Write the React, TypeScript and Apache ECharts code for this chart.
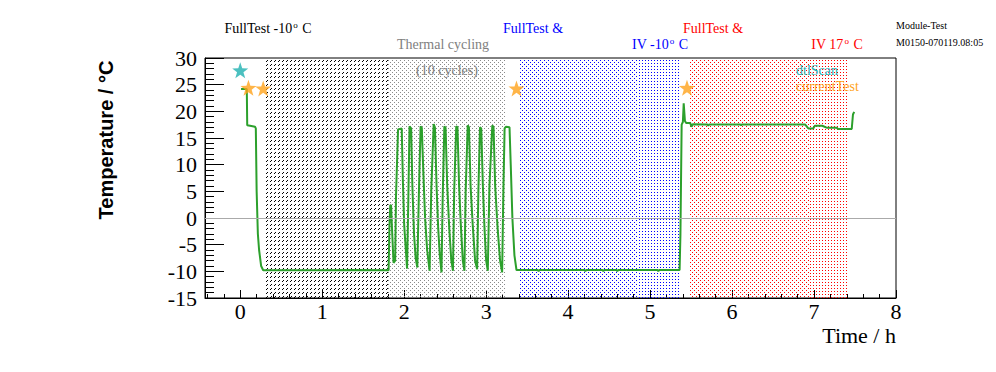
import React, { useEffect, useRef } from 'react';
import * as echarts from 'echarts';

// ---- data (hours, °C) ----
const timeH = [
  0.01, 0.08, 0.085, 0.12, 0.18, 0.19, 0.20, 0.215, 0.23, 0.255, 0.28, 0.60, 1.00, 1.40, 1.80,
  1.81, 1.82, 1.83, 1.84, 1.85, 1.87, 1.89,
  1.90, 1.925, 1.97, 1.985, 2.0, 2.02, 2.035,
  2.05, 2.065, 2.085, 2.10, 2.12, 2.14, 2.16,
  2.18, 2.20, 2.215, 2.235, 2.255, 2.28, 2.31,
  2.33, 2.36, 2.375, 2.395, 2.415, 2.435, 2.455,
  2.47, 2.49, 2.505, 2.525, 2.55, 2.575, 2.595,
  2.61, 2.635, 2.65, 2.67, 2.69, 2.715, 2.735,
  2.75, 2.775, 2.79, 2.81, 2.835, 2.865, 2.89,
  2.905, 2.925, 2.94, 2.96, 2.98, 3.00, 3.02,
  3.04, 3.075, 3.09, 3.11, 3.14, 3.17, 3.195,
  3.21, 3.225, 3.24, 3.285, 3.30, 3.32, 3.345, 3.37,
  3.40, 3.63, 3.64, 3.65, 4.20, 4.21, 4.22, 4.42, 4.43, 4.44, 4.59, 4.60, 4.61, 5.09, 5.10, 5.11,
  5.36, 5.37, 5.385, 5.40, 5.41, 5.425, 5.44, 5.49, 5.505, 5.52, 5.70, 5.71, 5.72, 6.10, 6.11, 6.12,
  6.89, 6.93, 6.99, 7.01, 7.10, 7.16, 7.28, 7.29, 7.46, 7.475, 7.49,
];
const tempC = [
  24.2, 24.2, 17.4, 17.3, 17.1, 16.8, 5.0, -3.0, -6.0, -9.0, -9.8, -9.8, -9.8, -9.75, -9.8,
  -9.8, -1.5, 2.4, 2.4, -1.5, -8.4, -8.0,
  4.0, 16.6, 16.8, 6.5, -1.3, -6.0, -9.5,
  3.0, 17.2, 16.8, 6.0, -3.0, -7.5, -9.3,
  5.0, 17.2, 16.9, 8.0, 0.0, -6.0, -9.9,
  5.0, 17.6, 17.0, 6.0, -2.0, -7.0, -10.2,
  4.0, 17.2, 16.9, 6.0, -2.0, -8.0, -9.9,
  5.0, 17.2, 17.0, 6.0, -1.0, -8.0, -9.9,
  5.0, 17.4, 17.0, 6.0, -1.0, -8.0, -9.6,
  5.0, 17.0, 16.8, 6.0, -2.0, -8.0, -9.9,
  6.0, 17.4, 17.0, 6.0, -2.0, -8.0, -10.2,
  5.0, 16.8, 17.1, 17.0, 10.0, 0.0, -7.0, -9.75,
  -9.75, -9.75, -10.0, -9.75, -9.75, -10.0, -9.75, -9.75, -10.0, -9.75, -9.75, -10.0, -9.75, -9.75, -10.0, -9.75,
  -9.75, -3.2, 17.5, 18.0, 21.5, 18.2, 17.8, 17.8, 17.1, 17.6, 17.55, 17.3, 17.55, 17.55, 17.4, 17.55,
  17.55, 16.8, 16.8, 17.3, 17.3, 16.9, 16.9, 16.7, 16.7, 19.4, 19.9,
];

// dtlScan (teal) and currentTest (orange) markers
const dtlScanT = [0.0];
const dtlScanY = [27.7];
const currentTestT = [0.10, 0.28, 3.37, 5.45];
const currentTestY = [24.4, 24.3, 24.3, 24.4];

// shaded test phases
const phaseStart = [0.313, 1.805, 3.415, 4.854, 5.476, 6.951];
const phaseEnd = [1.805, 3.23, 4.854, 5.366, 6.951, 7.427];
const phaseKind = ['coldHatch', 'cycleDots', 'ivColdHatch', 'ivColdDots', 'ivWarmHatch', 'ivWarmDots'];

const xTickValues = [0, 1, 2, 3, 4, 5, 6, 7, 8];

const SERIF = '"Liberation Serif", "Times New Roman", serif';
const SANS = '"Liberation Sans", Arial, sans-serif';

const STAR = 'path://M0,-10 L2.35,-3.24 L9.51,-3.09 L3.8,1.24 L5.88,8.09 L0,4 L-5.88,8.09 L-3.8,1.24 L-9.51,-3.09 L-2.35,-3.24 Z';

const phaseStyle: Record<string, { color: string; pattern: string }> = {
  coldHatch: { color: '#000000', pattern: 'dash' },
  cycleDots: { color: '#8a8a8a', pattern: 'lattice' },
  ivColdHatch: { color: '#0000ff', pattern: 'lattice' },
  ivColdDots: { color: '#0000ff', pattern: 'sparse' },
  ivWarmHatch: { color: '#ff0000', pattern: 'lattice' },
  ivWarmDots: { color: '#ff0000', pattern: 'sparse' },
};

// fill tiles: period in x and y, and the filled pixels [row, column] of one tile
const tiles: Record<string, { px: number; py: number; cells: number[][] }> = {
  dash: { px: 4, py: 4, cells: [[0, 3], [1, 2]] },
  lattice: { px: 4, py: 4, cells: [[0, 0], [2, 2]] },
  sparse: { px: 3, py: 3, cells: [[0, 0]] },
};

export default function App() {
  const ref = useRef<HTMLDivElement>(null);
  useEffect(() => {
    if (!ref.current) return;
    const chart = echarts.init(ref.current, undefined, { renderer: 'svg' });

    const minorX: number[] = [];
    for (let i = -2; i <= 40; i++) {
      if (i % 5 !== 0) minorX.push(+(i * 0.2).toFixed(2));
    }
    const minorY: number[] = [];
    for (let v = -15; v <= 30; v++) {
      if (v % 5 !== 0) minorY.push(v);
    }

    const lineData = timeH.map((t, i) => [t, tempC[i]]);
    const phaseData = phaseStart.map((s, i) => [s, phaseEnd[i], i]);

    const renderPhase = (params: any, api: any) => {
      const s = api.value(0);
      const e = api.value(1);
      const k = api.value(2);
      const cs = params.coordSys;
      const x0 = Math.round(api.coord([s, 0])[0]);
      const x1 = Math.round(api.coord([e, 0])[0]);
      const top = Math.round(cs.y) + 1;
      const bottom = Math.round(cs.y + cs.height);
      const st = phaseStyle[phaseKind[k]];
      const tile = tiles[st.pattern];
      const children: any[] = [];
      for (let y = top; y < bottom; y++) {
        const rm = ((y % tile.py) + tile.py) % tile.py;
        for (const [r, c] of tile.cells) {
          if (r !== rm) continue;
          const xs = x0 + ((((c - x0) % tile.px) + tile.px) % tile.px);
          if (xs >= x1) continue;
          children.push({
            type: 'line',
            silent: true,
            shape: { x1: xs, y1: y + 0.5, x2: x1, y2: y + 0.5 },
            style: { stroke: st.color, lineWidth: 1, lineDash: [1, tile.px - 1], lineCap: 'butt' },
          });
        }
      }
      return { type: 'group', children };
    };

    const serifTxt = (x: number, y: number, text: string, color: string, size: number, align = 'center') => ({
      type: 'text',
      x,
      y,
      z: 100,
      style: { text, fill: color, font: `${size}px ${SERIF}`, align, verticalAlign: 'middle' },
    });
    const supTxt = (x: number, y: number, pre: string, post: string, color: string) => ({
      type: 'text',
      x,
      y,
      z: 100,
      style: {
        text: `{a|${pre}}{s|o}{a|${post}}`,
        align: 'center',
        verticalAlign: 'middle',
        rich: {
          a: { fontSize: 14, fontFamily: SERIF, fill: color, lineHeight: 16 },
          s: { fontSize: 9, fontFamily: SERIF, fill: color, verticalAlign: 'top', lineHeight: 16, padding: [0, 1, 0, 1] },
        },
      },
    });

    chart.setOption({
      animation: false,
      backgroundColor: '#ffffff',
      grid: { left: 205, top: 58, right: 100, bottom: 74, show: true, borderColor: '#000', borderWidth: 1, backgroundColor: 'transparent' },
      xAxis: [
        {
          type: 'value',
          min: -0.43,
          max: 8,
          position: 'bottom',
          axisLine: { show: true, onZero: false, lineStyle: { color: '#000', width: 1 } },
          axisTick: { show: true, inside: true, length: 8, customValues: xTickValues, lineStyle: { color: '#000' } },
          axisLabel: { show: true, customValues: xTickValues, fontFamily: SERIF, fontSize: 22, color: '#000', margin: 2 },
          splitLine: { show: false },
        },
        {
          type: 'value',
          min: -0.43,
          max: 8,
          position: 'bottom',
          axisLine: { show: false, onZero: false },
          axisTick: { show: true, inside: true, length: 4, customValues: minorX, lineStyle: { color: '#000' } },
          axisLabel: { show: false },
          splitLine: { show: false },
        },
      ],
      yAxis: [
        {
          type: 'value',
          min: -15,
          max: 30,
          interval: 5,
          position: 'left',
          axisLine: { show: true, onZero: false, lineStyle: { color: '#000', width: 1 } },
          axisTick: { show: true, inside: true, length: 19, lineStyle: { color: '#000' } },
          axisLabel: { fontFamily: SERIF, fontSize: 22, color: '#000', margin: 8 },
          splitLine: { show: false },
        },
        {
          type: 'value',
          min: -15,
          max: 30,
          position: 'left',
          offset: 0,
          axisLine: { show: false, onZero: false },
          axisTick: { show: true, inside: true, length: 9, customValues: minorY, lineStyle: { color: '#000' } },
          axisLabel: { show: false },
          splitLine: { show: false },
        },
      ],
      series: [
        {
          type: 'custom',
          xAxisIndex: 0,
          yAxisIndex: 0,
          silent: true,
          z: 1,
          data: phaseData,
          encode: { x: [0, 1] },
          renderItem: renderPhase,
        },
        {
          type: 'line',
          data: lineData,
          showSymbol: false,
          z: 3,
          lineStyle: { color: '#2ca02c', width: 2 },
          itemStyle: { color: '#2ca02c' },
          markLine: {
            silent: true,
            symbol: ['none', 'none'],
            label: { show: false },
            lineStyle: { color: '#aaaaaa', type: 'solid', width: 1 },
            data: [{ yAxis: 0 }],
          },
        },
        {
          type: 'scatter',
          data: dtlScanT.map((t, i) => [t, dtlScanY[i]]),
          symbol: STAR,
          symbolSize: 16,
          z: 5,
          itemStyle: { color: '#1fb0b0' },
        },
        {
          type: 'scatter',
          data: currentTestT.map((t, i) => [t, currentTestY[i]]),
          symbol: STAR,
          symbolSize: 16,
          z: 5,
          itemStyle: { color: '#ffa31a' },
        },
      ],
      graphic: [
        supTxt(268, 28, 'FullTest -10', ' C', '#000000'),
        serifTxt(443, 44, 'Thermal cycling', '#808080', 14),
        serifTxt(447, 70, '(10 cycles)', '#808080', 14),
        serifTxt(533, 28, 'FullTest &', '#0000ff', 14),
        supTxt(660, 44, 'IV -10', ' C', '#0000ff'),
        serifTxt(713, 28, 'FullTest &', '#ff0000', 14),
        supTxt(837, 44, 'IV 17', ' C', '#ff0000'),
        serifTxt(896, 25, 'Module-Test', '#000000', 10, 'left'),
        serifTxt(896, 42, 'M0150-070119.08:05', '#000000', 10, 'left'),
        serifTxt(796, 70, 'dtlScan', '#1fb0b0', 14, 'left'),
        serifTxt(796, 86, 'currentTest', '#ffa31a', 14, 'left'),
        serifTxt(896, 335, 'Time / h', '#000000', 22, 'right'),
        {
          type: 'text',
          x: 106,
          y: 140,
          rotation: Math.PI / 2,
          style: { text: 'Temperature / °C', fill: '#000', font: `bold 20px ${SANS}`, align: 'center', verticalAlign: 'middle' },
        },
      ],
    });
    return () => chart.dispose();
  }, []);
  return <div ref={ref} style={{ position: 'absolute', left: 0, top: 0, width: 996, height: 372 }} />;
}
